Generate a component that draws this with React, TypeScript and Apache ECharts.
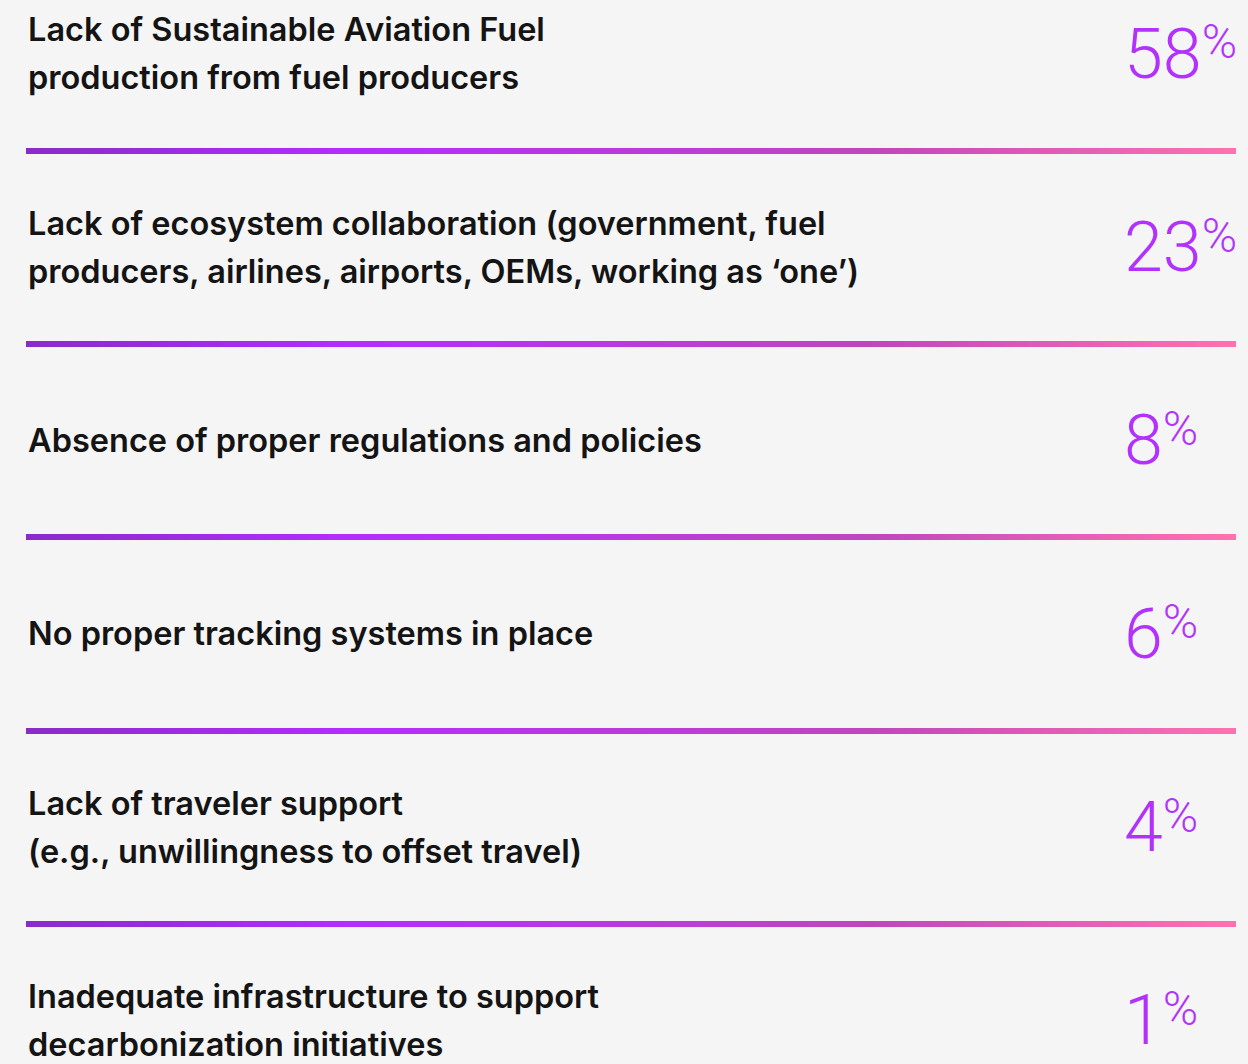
import React, { useEffect, useRef } from 'react';
import * as echarts from 'echarts';

const categories = [
  'Lack of Sustainable Aviation Fuel\nproduction from fuel producers',
  'Lack of ecosystem collaboration (government, fuel\nproducers, airlines, airports, OEMs, working as ‘one’)',
  'Absence of proper regulations and policies',
  'No proper tracking systems in place',
  'Lack of traveler support\n(e.g., unwillingness to offset travel)',
  'Inadequate infrastructure to support\ndecarbonization initiatives',
];
const values = [58, 23, 8, 6, 4, 1];

// column (on the hidden 0–100 x scale) where the percentage figures start
const PCT_COLUMN = 90.7;

export default function App() {
  const ref = useRef<HTMLDivElement>(null);
  useEffect(() => {
    if (!ref.current) return;
    const chart = echarts.init(ref.current, undefined, { renderer: 'svg' });
    const gradient = new echarts.graphic.LinearGradient(
      26, 0, 1236, 0,
      [
        { offset: 0, color: '#8a2bc9' },
        { offset: 0.27, color: '#b52cff' },
        { offset: 0.7, color: '#c046bd' },
        { offset: 1, color: '#ff72b0' },
      ],
      true
    );
    chart.setOption({
      animation: false,
      backgroundColor: '#f5f5f5',
      grid: { left: 26, right: 12, top: 0, bottom: 0, containLabel: false },
      xAxis: { type: 'value', min: 0, max: 100, show: false },
      yAxis: {
        type: 'category',
        inverse: true,
        data: categories,
        axisLine: { show: false },
        axisTick: { show: false },
        axisLabel: {
          inside: true,
          interval: 0,
          margin: 2,
          align: 'left',
          color: '#141414',
          fontFamily: 'Inter',
          fontWeight: 600,
          fontSize: 32.5,
          lineHeight: 48,
        },
        splitLine: { show: true, interval: 0, lineStyle: { width: 6, color: gradient } },
      },
      series: [
        {
          type: 'scatter',
          symbolSize: 1,
          itemStyle: { color: 'rgba(0,0,0,0)' },
          data: values.map((v, i) => [PCT_COLUMN, i, v]),
          label: {
            show: true,
            position: 'right',
            distance: 0,
            formatter: (p: any) => `{n|${p.value[2]}}{p|%}`,
            rich: {
              n: { fontFamily: 'Roboto', fontWeight: 300, fontSize: 70, lineHeight: 72, color: '#a100ff' },
              p: { fontFamily: 'Roboto', fontWeight: 300, fontSize: 48, lineHeight: 48, verticalAlign: 'top', color: '#a100ff' },
            },
          },
        },
      ],
    });
    return () => chart.dispose();
  }, []);
  return (
    <div style={{ position: 'fixed', left: 0, top: 0, width: 1248, height: 1064, overflow: 'hidden', background: '#f5f5f5' }}>
      <div ref={ref} style={{ position: 'absolute', left: 0, top: -43, width: 1248, height: 1160 }} />
    </div>
  );
}
